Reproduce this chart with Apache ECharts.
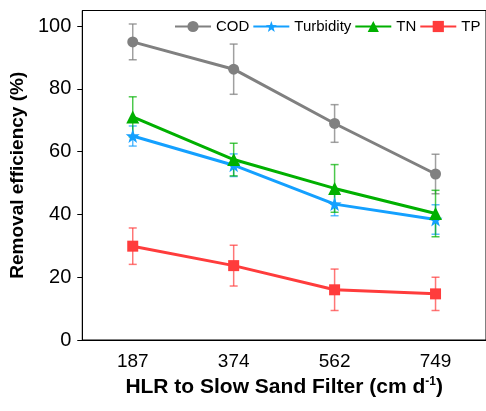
<!DOCTYPE html>
<html>
<head>
<meta charset="utf-8">
<script src="https://cdn.jsdelivr.net/npm/echarts@6/dist/echarts.min.js"></script>
<style>
  html, body { margin: 0; padding: 0; background: #fff; }
  #chart { width: 486px; height: 411px; }
</style>
</head>
<body>
<div id="chart"></div>
<script>
var hlr = ['187', '374', '562', '749'];
var yTicks = [0, 20, 40, 60, 80, 100];

var cod = [95, 86.3, 69, 52.9];
var codErr = [5.7, 8, 6, 6.3];
var turb = [65, 55.7, 43.3, 38.4];
var turbErr = [3.2, 3.6, 3.7, 4.7];
var tn = [71.1, 57.5, 48.3, 40.3];
var tnErr = [6.4, 5.2, 7.6, 7.4];
var tp = [29.9, 23.7, 16.0, 14.7];
var tpErr = [5.8, 6.5, 6.6, 5.3];

var font = 'Liberation Sans, Arial, sans-serif';
var starPath = 'path://M0,-10L2.35,-3.24L9.51,-3.09L3.8,1.24L5.88,8.09L0,4L-5.88,8.09L-3.8,1.24L-9.51,-3.09L-2.35,-3.24Z';

function errData(vals, errs) {
  return vals.map(function (v, i) { return [i, v - errs[i], v + errs[i]]; });
}

// error bars as a custom series
function errSeries(name, vals, errs, color) {
  return {
    type: 'custom',
    name: name + ' err',
    data: errData(vals, errs),
    z: 1,
    silent: true,
    renderItem: function (params, api) {
      var lo = api.coord([api.value(0), api.value(1)]);
      var hi = api.coord([api.value(0), api.value(2)]);
      var w = 4;
      var st = { stroke: color, lineWidth: 1.5 };
      return {
        type: 'group',
        children: [
          { type: 'line', shape: { x1: lo[0], y1: lo[1], x2: hi[0], y2: hi[1] }, style: st },
          { type: 'line', shape: { x1: lo[0] - w, y1: lo[1], x2: lo[0] + w, y2: lo[1] }, style: st },
          { type: 'line', shape: { x1: hi[0] - w, y1: hi[1], x2: hi[0] + w, y2: hi[1] }, style: st }
        ]
      };
    }
  };
}

function lineSeries(name, vals, color, symbol, size) {
  return {
    type: 'line',
    name: name,
    data: vals,
    symbol: symbol,
    symbolSize: size,
    z: 3,
    lineStyle: { color: color, width: 3 },
    itemStyle: { color: color }
  };
}

var chart = echarts.init(document.getElementById('chart'));
chart.setOption({
  animation: false,
  grid: { left: 82, top: 10.5, bottom: 71, right: -4, show: true, borderColor: '#000', borderWidth: 1 },
  legend: {
    left: 174, top: 19, width: 320, padding: 0,
    itemWidth: 36, itemHeight: 14, itemGap: 3, itemTextGap: 5,
    textStyle: { fontFamily: font, fontSize: 15, color: '#000' },
    data: ['COD', 'Turbidity', 'TN', 'TP']
  },
  xAxis: {
    type: 'category',
    data: hlr,
    boundaryGap: true,
    axisLine: { lineStyle: { color: '#000', width: 1 } },
    axisTick: { alignWithLabel: true, length: 5, lineStyle: { color: '#000' } },
    axisLabel: { fontFamily: font, fontSize: 19, color: '#000', margin: 12 },
    name: 'HLR to Slow Sand Filter (cm d{sup|-1})',
    nameLocation: 'middle',
    nameGap: 35,
    nameTextStyle: {
      fontFamily: font, fontSize: 21, fontWeight: 'bold', color: '#000',
      rich: { sup: { fontFamily: font, fontSize: 12, fontWeight: 'bold', color: '#000', padding: [0, 0, 10, 0] } }
    }
  },
  yAxis: {
    type: 'value',
    min: 0, max: 105,
    axisLine: { show: true, lineStyle: { color: '#000', width: 1 } },
    axisTick: { show: true, length: 5, customValues: yTicks, lineStyle: { color: '#000' } },
    axisLabel: { fontFamily: font, fontSize: 20, color: '#000', margin: 11, customValues: yTicks },
    splitLine: { show: false },
    name: 'Removal efficiency (%)',
    nameLocation: 'middle',
    nameGap: 49,
    nameTextStyle: { fontFamily: font, fontSize: 19, fontWeight: 'bold', color: '#000' }
  },
  series: [
    errSeries('COD', cod, codErr, 'rgba(128,128,128,0.75)'),
    errSeries('Turbidity', turb, turbErr, 'rgba(20,160,255,0.7)'),
    errSeries('TN', tn, tnErr, 'rgba(0,176,0,0.7)'),
    errSeries('TP', tp, tpErr, 'rgba(255,60,60,0.7)'),
    lineSeries('COD', cod, '#808080', 'circle', 11),
    lineSeries('Turbidity', turb, '#14a0ff', starPath, 14),
    lineSeries('TN', tn, '#00b000', 'triangle', 13),
    lineSeries('TP', tp, '#ff3c3c', 'rect', 11)
  ]
});
</script>
</body>
</html>
